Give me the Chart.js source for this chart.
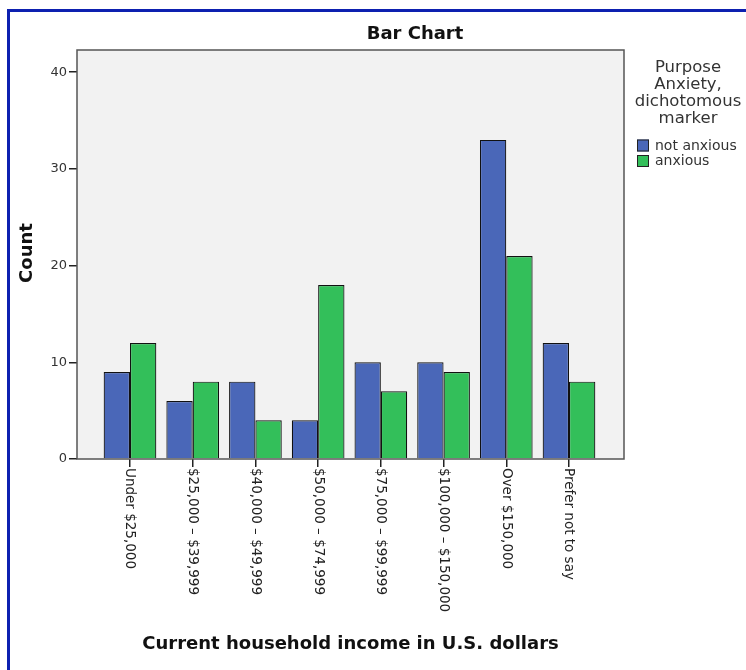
<!DOCTYPE html>
<html>
<head>
<meta charset="utf-8">
<script src="https://cdn.jsdelivr.net/npm/chart.js@4"></script>
<style>
  html, body { margin: 0; padding: 0; background: #fff; }
  #wrap { width: 746px; height: 670px; }
</style>
</head>
<body>
<div id="wrap"><canvas id="barChart" width="746" height="670"></canvas></div>
<script>
  // ── data ───────────────────────────────────────────────
  var incomeLabels = ["Under $25,000", "$25,000 – $39,999", "$40,000 – $49,999", "$50,000 – $74,999",
                      "$75,000 – $99,999", "$100,000 – $150,000", "Over $150,000", "Prefer not to say"];
  var notAnxious = [9, 6, 8, 4, 10, 10, 33, 12];
  var anxious = [12, 8, 4, 18, 7, 9, 21, 8];
  var seriesNames = ["not anxious", "anxious"];
  var legendTitle = ["Purpose", "Anxiety,", "dichotomous", "marker"];
  var yTicks = [0, 10, 20, 30, 40];

  var FONT = "'DejaVu Sans', sans-serif";
  var BLUE = "#4a67b8";
  var GREEN = "#33bf5a";

  function toPoints(arr) {
    return arr.map(function (v, i) { return { x: i, y: v }; });
  }

  // ── 배경, 프레임, 텍스트 ───────────────────────────────
  var decor = {
    id: "decor",
    beforeDraw: function (chart) {
      var ctx = chart.ctx, a = chart.chartArea;
      ctx.save();
      ctx.fillStyle = "#fff";
      ctx.fillRect(0, 0, chart.width, chart.height);
      // blue frame (left + top)
      ctx.fillStyle = "#0d20b0";
      ctx.fillRect(7, 9, 3, chart.height - 9);
      ctx.fillRect(7, 9, chart.width - 7, 3);
      ctx.fillStyle = "#f2f2f2";
      ctx.fillRect(a.left, a.top, a.right - a.left, a.bottom - a.top);
      ctx.restore();
    },
    afterDraw: function (chart) {
      var ctx = chart.ctx, a = chart.chartArea;
      var xs = chart.scales.x;
      ctx.save();
      ctx.strokeStyle = "#555";
      ctx.lineWidth = 1.5;
      ctx.strokeRect(a.left, a.top, a.right - a.left, a.bottom - a.top);

      // title
      ctx.fillStyle = "#111";
      ctx.font = "bold 18px " + FONT;
      ctx.textAlign = "center";
      ctx.textBaseline = "middle";
      ctx.fillText("Bar Chart", 415, 34);

      // axis titles
      ctx.fillText("Current household income in U.S. dollars", (a.left + a.right) / 2, 644);
      ctx.save();
      ctx.translate(27, 253);
      ctx.rotate(-Math.PI / 2);
      ctx.fillText("Count", 0, 0);
      ctx.restore();

      // x tick labels, rotated clockwise
      ctx.font = "13.5px " + FONT;
      ctx.fillStyle = "#222";
      ctx.textAlign = "left";
      incomeLabels.forEach(function (lab, i) {
        ctx.save();
        ctx.translate(xs.getPixelForValue(i), a.bottom + 9);
        ctx.rotate(Math.PI / 2);
        ctx.fillText(lab, 0, 0);
        ctx.restore();
      });

      // legend
      ctx.fillStyle = "#333";
      ctx.font = "16.5px " + FONT;
      ctx.textAlign = "center";
      legendTitle.forEach(function (line, i) {
        ctx.fillText(line, 688, 68 + i * 17);
      });
      ctx.font = "14px " + FONT;
      ctx.textAlign = "left";
      chart.data.datasets.forEach(function (ds, i) {
        var y = 146 + i * 15.5;
        ctx.fillStyle = ds.backgroundColor;
        ctx.fillRect(637, y - 6.5, 12, 12);
        ctx.strokeStyle = "#222";
        ctx.lineWidth = 1;
        ctx.strokeRect(637.5, y - 6, 11, 11);
        ctx.fillStyle = "#333";
        ctx.fillText(ds.label, 655, y);
      });
      ctx.restore();
    },
  };

  new Chart(document.getElementById("barChart").getContext("2d"), {
    type: "bar",
    data: {
      datasets: [
        { label: seriesNames[0], data: toPoints(notAnxious), backgroundColor: BLUE, borderColor: "#111", borderWidth: 1.2 },
        { label: seriesNames[1], data: toPoints(anxious), backgroundColor: GREEN, borderColor: "#111", borderWidth: 1.2 },
      ],
    },
    options: {
      responsive: false,
      animation: false,
      layout: { padding: { left: 0, top: 50, right: 122, bottom: 0 } },
      datasets: { bar: { categoryPercentage: 0.84, barPercentage: 1.0 } },
      plugins: { legend: { display: false }, tooltip: { enabled: false } },
      scales: {
        x: {
          type: "linear",
          min: -0.845,
          max: 7.877,
          offset: false,
          afterBuildTicks: function (s) {
            s.ticks = incomeLabels.map(function (l, i) { return { value: i }; });
          },
          afterFit: function (s) { s.height = 670 - 459; },
          ticks: { display: false },
          grid: { offset: false, drawOnChartArea: false, drawTicks: true, tickLength: 8, color: "#222", lineWidth: 1.5 },
          border: { display: false },
        },
        y: {
          min: 0,
          max: 42.3,
          afterBuildTicks: function (s) {
            s.ticks = yTicks.map(function (v) { return { value: v }; });
          },
          afterFit: function (s) { s.width = 77; },
          ticks: { color: "#333", padding: 2, font: { family: FONT, size: 13 } },
          grid: { drawOnChartArea: false, drawTicks: true, tickLength: 8, color: "#222", lineWidth: 1.5 },
          border: { display: false },
        },
      },
    },
    plugins: [decor],
  });
</script>
</body>
</html>
